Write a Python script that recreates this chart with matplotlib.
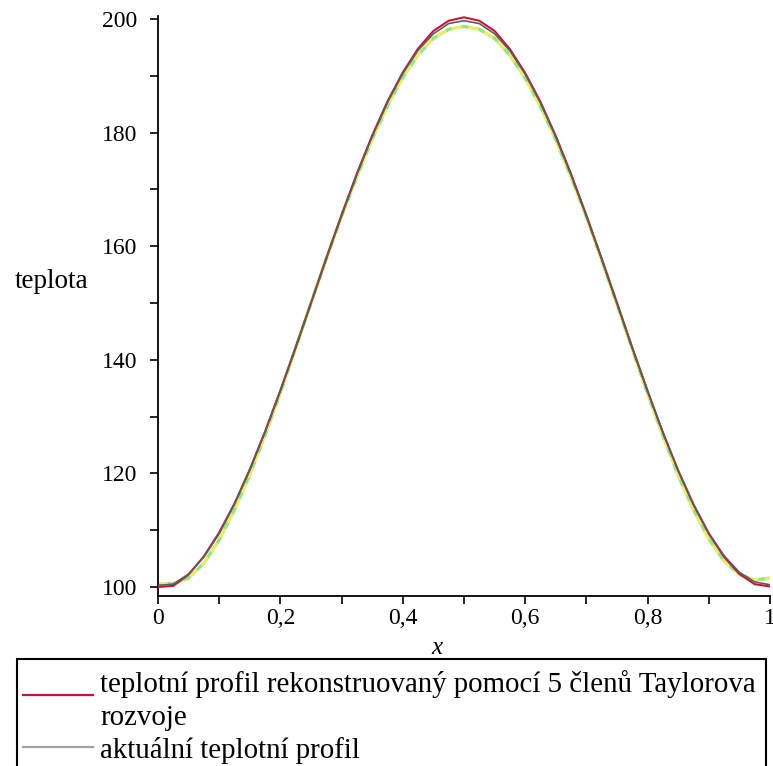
import matplotlib
matplotlib.use("Agg")
import matplotlib.pyplot as plt
from matplotlib.lines import Line2D
from matplotlib.patches import Rectangle
from matplotlib.ticker import MultipleLocator, FuncFormatter

plt.rcParams['font.family'] = ['Liberation Serif', 'DejaVu Serif']

# ---- data ----
x_vals = [0.0, 0.025, 0.05, 0.075, 0.1, 0.125, 0.15, 0.175, 0.2, 0.225, 0.25,
          0.275, 0.3, 0.325, 0.35, 0.375, 0.4, 0.425, 0.45, 0.475, 0.5,
          0.525, 0.55, 0.575, 0.6, 0.625, 0.65, 0.675, 0.7, 0.725, 0.75,
          0.775, 0.8, 0.825, 0.85, 0.875, 0.9, 0.925, 0.95, 0.975, 1.0]

taylor5 = [100.0, 100.2, 102.2, 105.4, 109.6, 114.7, 120.7, 127.4, 134.6, 142.2, 150.0,
           157.9, 165.5, 172.8, 179.5, 185.5, 190.6, 194.8, 197.9, 199.7, 200.3,
           199.7, 197.9, 194.7, 190.5, 185.4, 179.4, 172.7, 165.4, 157.8, 150.0,
           142.1, 134.5, 127.2, 120.5, 114.5, 109.4, 105.3, 102.3, 100.5, 100.1]

actual = [100.3, 100.5, 102.3, 105.3, 109.4, 114.6, 120.6, 127.3, 134.6, 142.2, 150.0,
          157.8, 165.4, 172.6, 179.3, 185.3, 190.4, 194.5, 197.4, 199.2, 199.7,
          199.2, 197.4, 194.4, 190.3, 185.2, 179.2, 172.5, 165.3, 157.7, 149.9,
          142.1, 134.5, 127.2, 120.5, 114.6, 109.5, 105.5, 102.6, 100.9, 100.4]

other = [100.5, 100.6, 101.6, 104.2, 108.3, 113.6, 119.8, 126.8, 134.3, 142.1, 150.0,
         157.8, 165.3, 172.3, 178.9, 184.7, 189.7, 193.7, 196.6, 198.2, 198.7,
         198.2, 196.6, 193.6, 189.6, 184.6, 178.8, 172.2, 165.2, 157.6, 149.8,
         141.9, 134.1, 126.7, 119.7, 113.6, 108.5, 104.6, 102.2, 101.2, 101.6]

legend_labels = ["teplotní profil rekonstruovaný pomocí 5 členů Taylorova",
                 "rozvoje",
                 "aktuální teplotní profil"]
y_label = "teplota"
x_label = "x"

W, H = 773, 766
fig = plt.figure(figsize=(W / 100, H / 100), dpi=100)

def fx(px):
    return px / W

def fy(py):
    return 1 - py / H

ax_l, ax_r, ax_t, ax_b = 158, 770, 16, 596
ax = fig.add_axes([fx(ax_l), fy(ax_b), fx(ax_r - ax_l), (ax_b - ax_t) / H])
ax.set_xlim(0, 1)
ax.set_ylim(98.42, 200.53)

red_c = '#c8143c'
grey_c = '#5e5e58'

ax.plot(x_vals, taylor5, color=red_c, lw=1.5, zorder=3)
ax.plot(x_vals, other, color='#80e8d8', lw=2.0, zorder=2)
ax.plot(x_vals, other, color='#e6ee6a', lw=2.4, dashes=(3, 2),
        gapcolor='#9ae67a', zorder=2.5)
ax.plot(x_vals, actual, color=grey_c, lw=1.2, zorder=4)

for s in ['top', 'right']:
    ax.spines[s].set_visible(False)
for s in ['left', 'bottom']:
    ax.spines[s].set_linewidth(1.3)
    ax.spines[s].set_color('black')

ax.xaxis.set_major_locator(MultipleLocator(0.2))
ax.xaxis.set_minor_locator(MultipleLocator(0.1))
ax.yaxis.set_major_locator(MultipleLocator(20))
ax.yaxis.set_minor_locator(MultipleLocator(10))

def xfmt(v, pos):
    s = f"{v:.1f}".replace('.', ',')
    if s.endswith(',0'):
        s = s[:-2]
    return s

ax.xaxis.set_major_formatter(FuncFormatter(xfmt))
ax.yaxis.set_major_formatter(FuncFormatter(lambda v, p: f"{int(round(v))}"))
ax.tick_params(axis='both', which='both', direction='out', length=6, width=1.2,
               labelsize=17)
ax.tick_params(axis='y', pad=9)
ax.tick_params(axis='x', pad=3)

fig.text(fx(15), fy(282), y_label, ha='left', va='center', fontsize=19.5)
fig.text(fx(437), fy(648), x_label, ha='center', va='center', fontsize=18,
         style='italic')

# legend box
fig.patches.append(Rectangle((fx(17), -0.01), fx(766 - 17), fy(659) + 0.01,
                             transform=fig.transFigure, fill=False,
                             edgecolor='black', linewidth=1.5))
fig.lines.append(Line2D([fx(23), fx(93)], [fy(695), fy(695)], color=red_c,
                        lw=1.6, transform=fig.transFigure))
fig.lines.append(Line2D([fx(23), fx(93)], [fy(747), fy(747)], color='#a0a0a0',
                        lw=1.6, transform=fig.transFigure))
fs_leg = 20.8
fig.text(fx(100), fy(684), legend_labels[0], ha='left', va='center', fontsize=fs_leg)
fig.text(fx(100), fy(718), legend_labels[1], ha='left', va='center', fontsize=fs_leg)
fig.text(fx(100), fy(751), legend_labels[2], ha='left', va='center', fontsize=fs_leg)

fig.savefig("out.png", dpi=100)
